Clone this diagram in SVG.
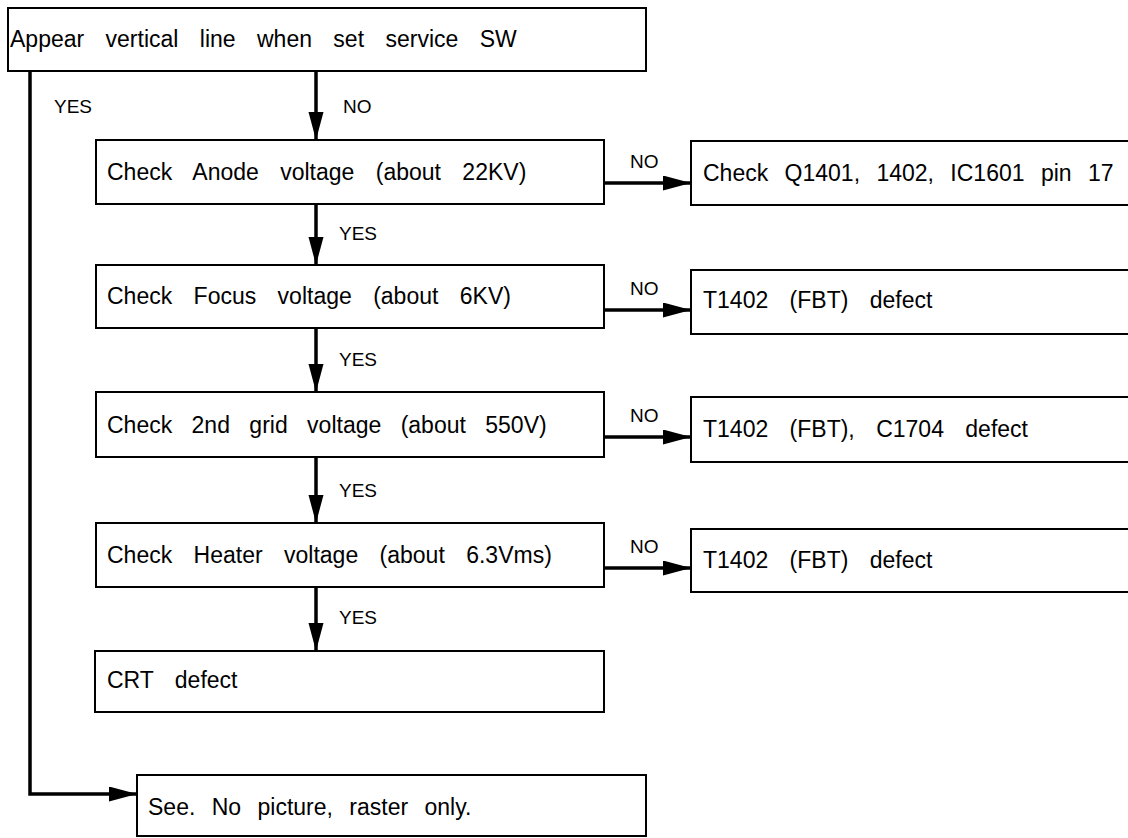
<svg xmlns="http://www.w3.org/2000/svg" width="1128" height="838" viewBox="0 0 1128 838">
<style>
.box{fill:#fff;stroke:#000;stroke-width:2}
.t{font-family:"Liberation Sans",Arial,sans-serif;font-size:23px;fill:#000;word-spacing:15px}
.lbl{font-family:"Liberation Sans",Arial,sans-serif;font-size:19px;fill:#000}
.c{fill:none;stroke:#000;stroke-width:3.5}
</style>
<defs>
<marker id="ah" markerUnits="userSpaceOnUse" markerWidth="30" markerHeight="16" refX="28" refY="7.5" orient="auto" viewBox="0 0 30 16">
<path d="M0,0 L28,7.5 L0,15 z" fill="#000"/>
</marker>
</defs>
<rect width="1128" height="838" fill="#fff"/>
<g id="connectors">
<path class="c" d="M30,71 V794 H137" marker-end="url(#ah)"/>
<path class="c" d="M316,71 V140" marker-end="url(#ah)"/>
<path class="c" d="M316,204 V265" marker-end="url(#ah)"/>
<path class="c" d="M316,328 V392" marker-end="url(#ah)"/>
<path class="c" d="M316,457 V523" marker-end="url(#ah)"/>
<path class="c" d="M316,587 V651" marker-end="url(#ah)"/>
<path class="c" d="M604,183 H691" marker-end="url(#ah)"/>
<path class="c" d="M604,310 H691" marker-end="url(#ah)"/>
<path class="c" d="M604,437 H691" marker-end="url(#ah)"/>
<path class="c" d="M604,568 H691" marker-end="url(#ah)"/>
<text class="lbl" x="54" y="113">YES</text>
<text class="lbl" x="343" y="113">NO</text>
<text class="lbl" x="339" y="240">YES</text>
<text class="lbl" x="339" y="366">YES</text>
<text class="lbl" x="339" y="497">YES</text>
<text class="lbl" x="339" y="624">YES</text>
<text class="lbl" x="630" y="168">NO</text>
<text class="lbl" x="630" y="295">NO</text>
<text class="lbl" x="630" y="422">NO</text>
<text class="lbl" x="630" y="553">NO</text>
</g>
<g id="start">
<rect class="box" x="8" y="8" width="638" height="63"/>
<text class="t" x="10" y="47">Appear vertical line when set service SW</text>
</g>
<g id="anode">
<rect class="box" x="96" y="140" width="508" height="64"/>
<text class="t" x="107" y="180">Check Anode voltage (about 22KV)</text>
</g>
<g id="anode-no">
<rect class="box" x="691" y="141" width="450" height="64"/>
<text class="t" x="703" y="181" style="word-spacing:10px">Check Q1401, 1402, IC1601 pin 17</text>
</g>
<g id="focus">
<rect class="box" x="96" y="265" width="508" height="63"/>
<text class="t" x="107" y="304">Check Focus voltage (about 6KV)</text>
</g>
<g id="focus-no">
<rect class="box" x="691" y="270" width="450" height="64"/>
<text class="t" x="703" y="308">T1402 (FBT) defect</text>
</g>
<g id="grid">
<rect class="box" x="96" y="392" width="508" height="65"/>
<text class="t" x="107" y="433" style="word-spacing:13px">Check 2nd grid voltage (about 550V)</text>
</g>
<g id="grid-no">
<rect class="box" x="691" y="397" width="450" height="65"/>
<text class="t" x="703" y="437">T1402 (FBT), C1704 defect</text>
</g>
<g id="heater">
<rect class="box" x="96" y="523" width="508" height="64"/>
<text class="t" x="107" y="563">Check Heater voltage (about 6.3Vms)</text>
</g>
<g id="heater-no">
<rect class="box" x="691" y="529" width="450" height="63"/>
<text class="t" x="703" y="568">T1402 (FBT) defect</text>
</g>
<g id="crt">
<rect class="box" x="95" y="651" width="509" height="61"/>
<text class="t" x="107" y="688">CRT defect</text>
</g>
<g id="raster">
<rect class="box" x="137" y="775" width="509" height="61"/>
<text class="t" x="148" y="815" style="word-spacing:10px">See. No picture, raster only.</text>
</g>
</svg>
